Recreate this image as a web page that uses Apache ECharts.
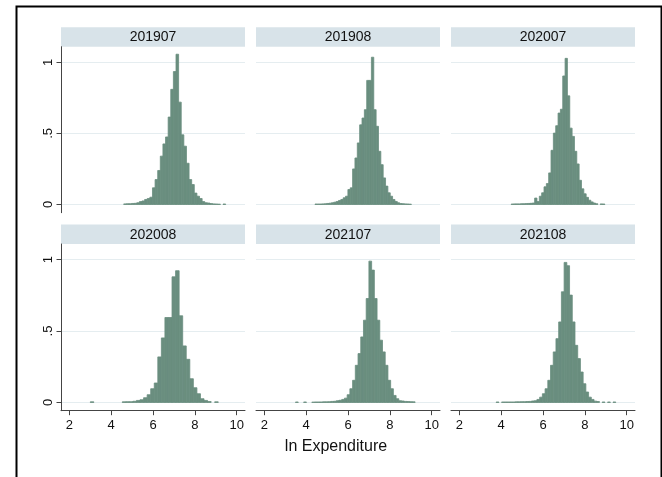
<!DOCTYPE html>
<html>
<head>
<meta charset="utf-8">
<title>ln Expenditure by month</title>
<script src="https://cdn.jsdelivr.net/npm/echarts@6/dist/echarts.min.js"></script>
<style>
  html, body { margin: 0; padding: 0; background: #ffffff; }
  #chart { width: 662px; height: 477px; }
</style>
</head>
<body>
<div id="chart"></div>
<script>
// Panel labels (survey month)
const panelNames = ['201907', '201908', '202007', '202008', '202107', '202108'];

// Histogram bins: lower edge of the first bin and bin width for each panel
const binStart = [4.6, 4.42, 4.48, 3.0, 3.49, 3.76];
const binWidth = [0.125, 0.1125, 0.112, 0.17, 0.13, 0.13];

// Density of each bin, one array per month
const dens201907 = [0.004, 0.005, 0.005, 0.007, 0.008, 0.012, 0.02, 0.025,
  0.035, 0.042, 0.051, 0.117, 0.175, 0.239, 0.34, 0.426, 0.475, 0.615, 0.81, 0.935, 1.057,
  0.72, 0.49, 0.41, 0.29, 0.175, 0.14, 0.08, 0.058, 0.042, 0.02, 0.012, 0.01, 0.006, 0.004,
  0.003, 0.002, 0, 0.003];
const dens201908 = [0.003, 0.003, 0.003, 0.004, 0.005, 0.007, 0.009, 0.012, 0.016, 0.021,
  0.028, 0.035, 0.047, 0.058, 0.105, 0.117, 0.25, 0.327, 0.433, 0.56, 0.608, 0.667, 0.873,
  0.873, 1.036, 0.667, 0.55, 0.374, 0.28, 0.187, 0.129, 0.082, 0.058, 0.035, 0.021, 0.012,
  0.006, 0.005, 0.004, 0.003, 0.002];
const dens202007 = [0.003, 0.004, 0.004, 0.004, 0.005, 0.005, 0.006, 0.007, 0.008, 0.01,
  0.045, 0.02, 0.058, 0.082, 0.124, 0.147, 0.222, 0.381, 0.502, 0.554, 0.643, 0.67, 0.904,
  1.028, 0.764, 0.537, 0.479, 0.374, 0.285, 0.17, 0.11, 0.075, 0.05, 0.03, 0.018, 0.01,
  0.005, 0, 0.004, 0.003];
const dens202008 = [0.004, 0, 0, 0, 0, 0, 0, 0, 0, 0.004, 0.005, 0.005, 0.008,
  0.014, 0.019, 0.033, 0.054, 0.096, 0.136, 0.319, 0.452, 0.595, 0.595, 0.88, 0.923, 0.607,
  0.396, 0.302, 0.166, 0.103, 0.061, 0.026, 0.014, 0.006, 0, 0.004];
const dens202107 = [0.003, 0, 0, 0.003, 0, 0, 0.002, 0.003, 0.003, 0.003, 0.004, 0.004,
  0.005, 0.007, 0.008, 0.012, 0.015, 0.021, 0.03, 0.054, 0.096, 0.155, 0.26, 0.342, 0.459,
  0.576, 0.728, 0.99, 0.927, 0.728, 0.576, 0.436, 0.354, 0.26, 0.155, 0.096, 0.049, 0.026,
  0.012, 0.01, 0.007, 0.006, 0.005, 0.004];
const dens202108 = [0.003, 0, 0.003, 0.003, 0.003, 0.003, 0.003, 0.004, 0.004, 0.005,
  0.005, 0.006, 0.007, 0.01, 0.012, 0.021, 0.037, 0.061, 0.096, 0.155, 0.26, 0.354, 0.447,
  0.564, 0.775, 0.981, 0.958, 0.752, 0.564, 0.4, 0.307, 0.213, 0.131, 0.073, 0.037, 0.021,
  0.009, 0.006, 0, 0.003, 0, 0.003, 0, 0.003];

// Axis ticks
const xTicks = [2, 4, 6, 8, 10];
const yTicks = [0, 0.5, 1];
const xTitle = 'ln Expenditure';

const densities = [dens201907, dens201908, dens202007, dens202008, dens202107, dens202108];

// Layout of the 3 x 2 panel grid
const colLeft = [61, 256, 451];
const plotW = 184;
const rowTop = [46.7, 244];
const plotH = [166, 166.7];
const stripH = 19.5;

const FONT = '"Liberation Sans", Arial, sans-serif';
const BAR = '#6a8e7f';
const AXIS = '#444444';
const GRIDLINE = '#e5edf0';
const STRIP = '#d8e3e9';

const grids = [], xAxes = [], yAxes = [], series = [], graphics = [];

densities.forEach((dens, p) => {
  const col = p % 3, row = Math.floor(p / 3);
  grids.push({ left: colLeft[col], top: rowTop[row], width: plotW, height: plotH[row] });

  const bottomRow = row === 1;
  xAxes.push({
    type: 'value', gridIndex: p, min: 1.6, max: 10.4, show: bottomRow,
    axisLine: { show: true, onZero: false, lineStyle: { color: AXIS, width: 1 } },
    axisTick: { show: true, length: 4.5, customValues: xTicks, lineStyle: { color: AXIS } },
    axisLabel: { show: true, customValues: xTicks, margin: 8, color: '#111',
      fontFamily: FONT, fontSize: 13 },
    splitLine: { show: false }
  });

  const leftCol = col === 0;
  yAxes.push({
    type: 'value', gridIndex: p, min: -0.058, max: 1.11,
    axisLine: { show: leftCol, onZero: false, lineStyle: { color: AXIS, width: 1 } },
    axisTick: { show: leftCol, length: 4.5, customValues: yTicks, lineStyle: { color: AXIS } },
    axisLabel: { show: leftCol, customValues: yTicks, rotate: 90, margin: 6, color: '#111',
      fontFamily: FONT, fontSize: 13,
      formatter: v => (v === 0 ? '0' : String(v).replace(/^0\./, '.')) },
    splitLine: { show: true, lineStyle: { color: GRIDLINE, width: 1 } }
  });

  const start = binStart[p], w = binWidth[p];
  const data = dens.map((d, i) => [start + i * w, start + (i + 1) * w, d]);
  series.push({
    type: 'custom', xAxisIndex: p, yAxisIndex: p, data: data,
    encode: { x: [0, 1], y: 2 },
    clip: true,
    renderItem: (params, api) => {
      const h = api.value(2);
      if (h <= 0) return null;
      const a = api.coord([api.value(0), 0]);
      const b = api.coord([api.value(1), h]);
      return {
        type: 'rect',
        shape: { x: a[0], y: b[1], width: b[0] - a[0], height: a[1] - b[1] },
        style: { fill: BAR, stroke: BAR, lineWidth: 0.8 }
      };
    }
  });

  // Panel header strip
  graphics.push({
    type: 'group', left: colLeft[col], top: rowTop[row] - stripH,
    children: [
      { type: 'rect', shape: { x: 0, y: 0, width: plotW, height: stripH },
        style: { fill: STRIP } },
      { type: 'text', x: plotW / 2, y: stripH / 2 + 0.5,
        style: { text: panelNames[p], fill: '#111', font: '14px ' + FONT,
          align: 'center', verticalAlign: 'middle' } }
    ]
  });
});

// Outer frame and shared x-axis title
graphics.push({
  type: 'rect', left: 14, top: 4, z: 10,
  shape: { x: 0, y: 0, width: 645, height: 500 },
  style: { fill: 'none', stroke: '#000', lineWidth: 2 }
});
graphics.push({
  type: 'text', x: 336, y: 447,
  style: { text: xTitle, fill: '#111', font: '16px ' + FONT,
    align: 'center', verticalAlign: 'middle' }
});

const chart = echarts.init(document.getElementById('chart'), null, { renderer: 'canvas' });
chart.setOption({
  animation: false,
  backgroundColor: '#ffffff',
  grid: grids,
  xAxis: xAxes,
  yAxis: yAxes,
  series: series,
  graphic: graphics
});
</script>
</body>
</html>
